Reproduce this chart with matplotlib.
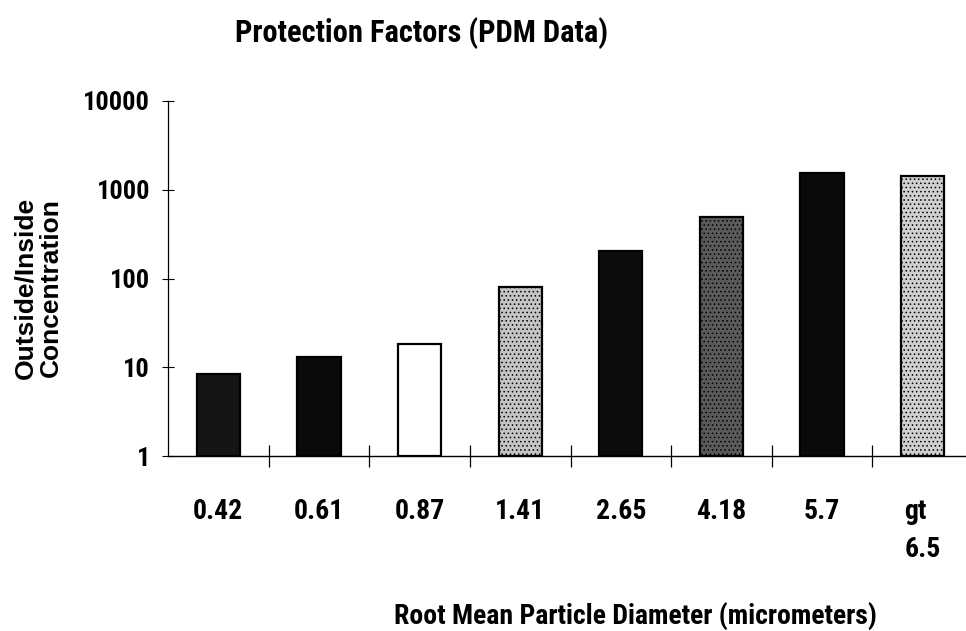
import matplotlib
matplotlib.use("Agg")
import matplotlib.pyplot as plt
import numpy as np

# data
sizes = ["0.42", "0.61", "0.87", "1.41", "2.65", "4.18", "5.7", "gt\n6.5"]
factors = [7.5, 12, 17.5, 80, 205, 495, 1540, 1430]
fills = ["#151515", "#0a0a0a", "#ffffff", "#c4c4c4", "#0c0c0c", "#5a5a5a", "#0a0a0a", "#cfcfcf"]
hatches = ["", "", "", "....", "", "....", "", "...."]
ytick_vals = [1, 10, 100, 1000, 10000]
ytick_labels = ["1", "10", "100", "1000", "10000"]

narrow = ["Roboto Condensed", "DejaVu Sans"]
wide = ["Liberation Sans", "DejaVu Sans"]

plt.rcParams["hatch.linewidth"] = 0.6

fig = plt.figure(figsize=(9.66, 6.31), dpi=100)
ax = fig.add_axes([168 / 966, 1 - 456 / 631, 805 / 966, 355 / 631])

x = np.arange(len(sizes))
for i in range(len(sizes)):
    ax.bar(x[i], factors[i], width=0.43, bottom=1, color=fills[i],
           edgecolor="black", linewidth=1.6, hatch=hatches[i], zorder=3)

ax.set_yscale("log")
ax.set_ylim(1, 10000)
ax.set_xlim(-0.5, len(sizes) - 0.5)

ax.set_yticks(ytick_vals)
ax.set_yticklabels(ytick_labels, fontfamily=narrow, fontweight="bold", fontsize=19)
ax.yaxis.set_minor_locator(matplotlib.ticker.NullLocator())
ax.tick_params(axis="y", direction="inout", length=8, width=0.8, pad=9)

ax.set_xticks(x)
ax.set_xticklabels(sizes, fontfamily=narrow, fontweight="bold", fontsize=20,
                   multialignment="left", linespacing=1.55)
ax.tick_params(axis="x", which="major", length=0, pad=30)
ax.set_xticks(np.arange(len(sizes)) + 0.5, minor=True)
ax.tick_params(axis="x", which="minor", direction="inout", length=16, width=0.9)

for s in ["top", "right"]:
    ax.spines[s].set_visible(False)
ax.spines["left"].set_linewidth(0.9)
ax.spines["bottom"].set_linewidth(1.0)

fig.text(422 / 966, 1 - 33 / 631, "Protection Factors (PDM Data)", ha="center", va="center",
         fontfamily=narrow, fontweight="bold", fontsize=22)
fig.text(635 / 966, 1 - 616 / 631, "Root Mean Particle Diameter (micrometers)", ha="center",
         va="center", fontfamily=narrow, fontweight="bold", fontsize=20)
fig.text(38 / 966, 1 - 288 / 631, "Outside/Inside\nConcentration", ha="center", va="center",
         rotation=90, fontfamily=wide, fontweight="bold", fontsize=19, linespacing=1.05)

fig.savefig("out.png", dpi=100)
